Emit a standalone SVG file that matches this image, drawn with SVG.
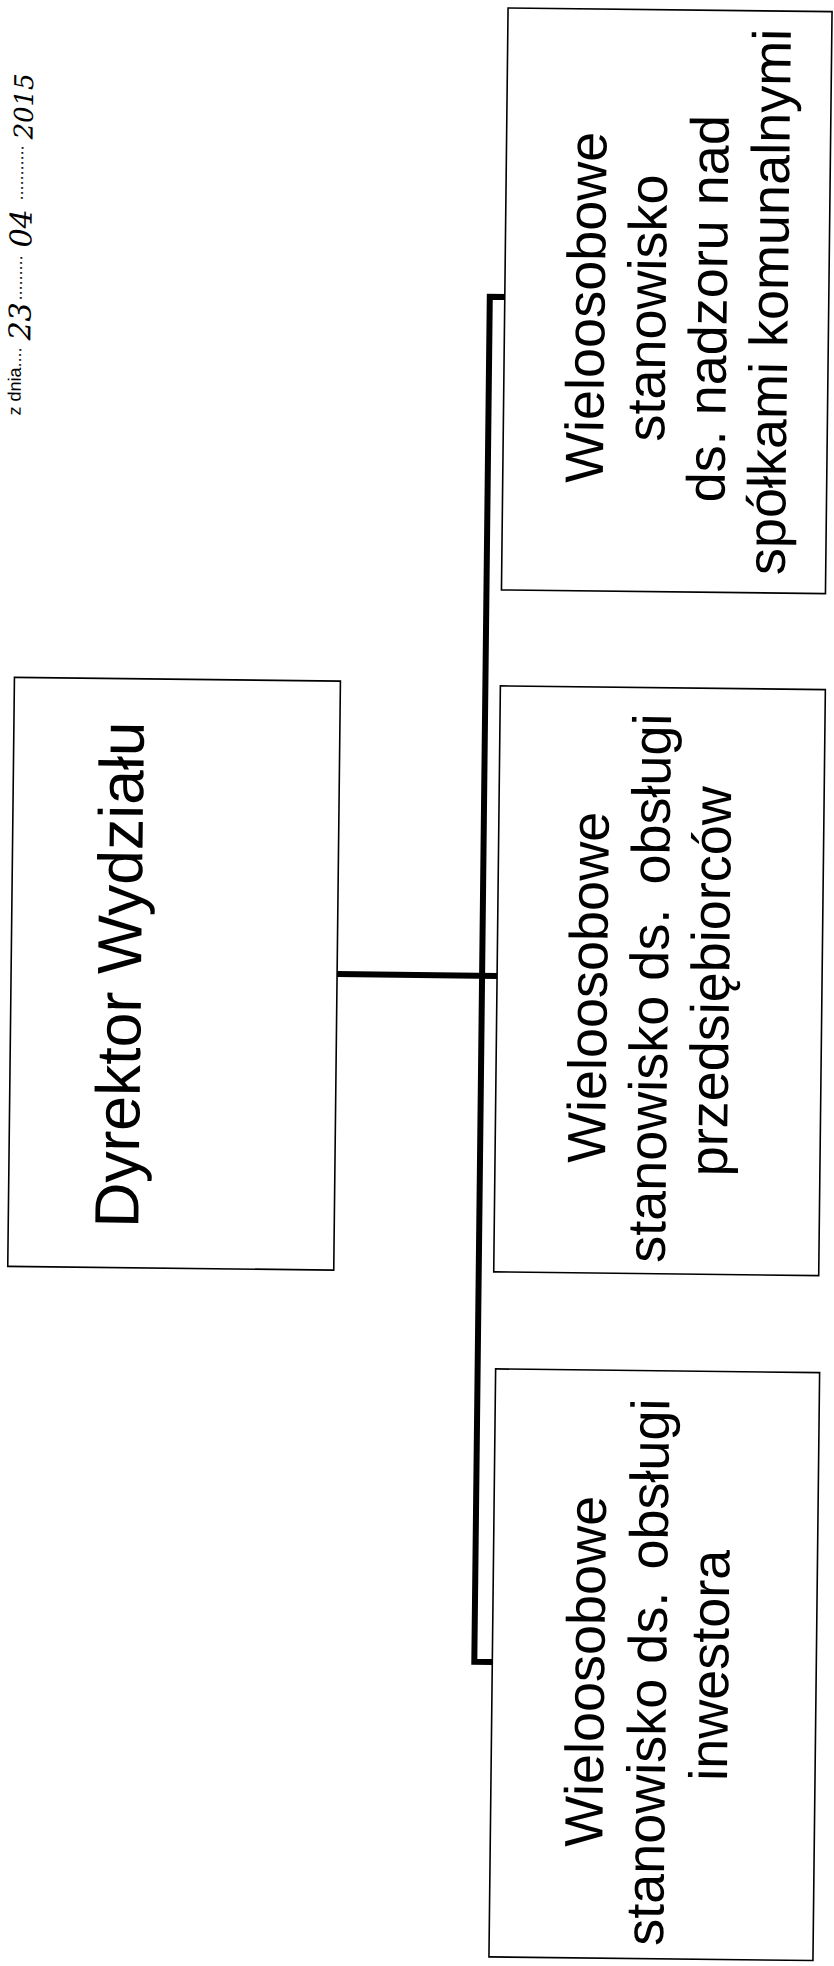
<svg xmlns="http://www.w3.org/2000/svg" width="834" height="1966" viewBox="0 0 834 1966">
<style>
.box{fill:#fff;stroke:#000;stroke-width:1.6}
.lbl{font-family:"Liberation Sans",Arial,sans-serif;font-size:54px;fill:#000;text-anchor:middle}
.conn{fill:none;stroke:#000;stroke-width:6;stroke-linejoin:miter;stroke-linecap:butt}
.prn{font-family:"Liberation Sans",Arial,sans-serif;font-size:18px;fill:#000}
.hw{font-family:"DejaVu Serif",serif;font-style:italic;font-size:30px;fill:#000}
</style>
<rect width="834" height="1966" fill="#fff"/>
<g transform="rotate(0.65 417 983)">
  <g id="connectors">
    <path class="conn" d="M337 975 H497"/>
    <path class="conn" d="M499 296 H482 V1661 H501"/>
  </g>
  <g id="node-dyrektor">
    <rect class="box" x="11" y="682" width="326" height="589"/>
    <text class="lbl" style="font-size:62.5px" transform="translate(141,978) rotate(-90)">Dyrektor Wydziału</text>
  </g>
  <g id="node-spolki">
    <rect class="box" x="497" y="7" width="324" height="582"/>
    <text class="lbl" transform="translate(597,298) rotate(-90)">
      <tspan x="0" dy="0">Wieloosobowe</tspan>
      <tspan x="0" dy="61">stanowisko</tspan>
      <tspan x="0" dy="61">ds. nadzoru nad</tspan>
      <tspan x="0" dy="61">spółkami komunalnymi</tspan>
    </text>
  </g>
  <g id="node-przedsiebiorcy">
    <rect class="box" x="497" y="685" width="325" height="586"/>
    <text class="lbl" transform="translate(607,978) rotate(-90)">
      <tspan x="0" dy="0">Wieloosobowe</tspan>
      <tspan x="0" dy="61">stanowisko ds.<tspan dx="9"> obsługi</tspan></tspan>
      <tspan x="0" dy="61">przedsiębiorców</tspan>
    </text>
  </g>
  <g id="node-inwestor">
    <rect class="box" x="500" y="1368" width="324" height="588"/>
    <text class="lbl" transform="translate(612,1662) rotate(-90)">
      <tspan x="0" dy="0">Wieloosobowe</tspan>
      <tspan x="0" dy="62">stanowisko ds.<tspan dx="7"> obsługi</tspan></tspan>
      <tspan x="0" dy="62">inwestora</tspan>
    </text>
  </g>
  <g id="stamp">
    <text transform="translate(14,420) rotate(-90)">
      <tspan class="prn" x="0">z dnia....</tspan>
      <tspan class="hw" x="75" dy="9">23</tspan>
      <tspan class="prn" x="115" dy="-9">.........</tspan>
      <tspan class="hw" x="168" dy="9">04</tspan>
      <tspan class="prn" x="215" dy="-9">...........</tspan>
      <tspan class="hw" style="font-size:26px" x="276" dy="9">2015</tspan>
    </text>
  </g>
</g>
</svg>
